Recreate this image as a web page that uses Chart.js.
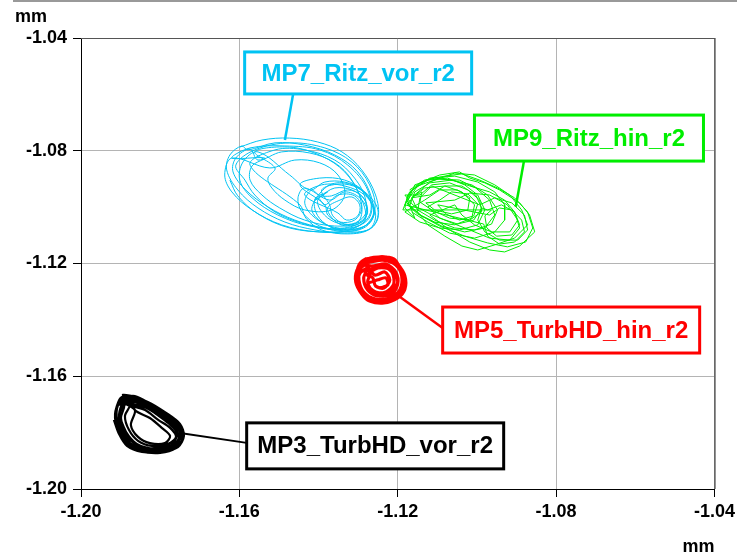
<!DOCTYPE html>
<html>
<head>
<meta charset="utf-8">
<script src="https://cdn.jsdelivr.net/npm/chart.js@4/dist/chart.umd.min.js"></script>
<style>
  html, body { margin: 0; padding: 0; background: #fff; }
  canvas { display: block; }
</style>
</head>
<body>
<canvas id="orbit" width="739" height="558"></canvas>
<script>
// Axis ticks (mm)
const xTicks = [-1.20, -1.16, -1.12, -1.08, -1.04];
const yTicks = [-1.20, -1.16, -1.12, -1.08, -1.04];

// Measuring points
const seriesNames = ['MP7_Ritz_vor_r2', 'MP9_Ritz_hin_r2', 'MP5_TurbHD_hin_r2', 'MP3_TurbHD_vor_r2'];

// Shaft orbit traces, [x, y] in mm
const mp7Orbit = [
  [-1.1599,-1.0787],[-1.1543,-1.0762],[-1.1473,-1.0755],[-1.1402,-1.0769],[-1.1341,-1.0804],[-1.1291,-1.0868],[-1.1256,-1.0957],[-1.1250,-1.1039],[-1.1276,-1.1081],[-1.1334,-1.1092],[-1.1409,-1.1081],[-1.1485,-1.1053],[-1.1553,-1.1003],[-1.1604,-1.0939],[-1.1632,-1.0868],[-1.1624,-1.0815],[-1.1594,-1.0783],
  [-1.1579,-1.0797],[-1.1510,-1.0772],[-1.1435,-1.0780],[-1.1359,-1.0815],[-1.1301,-1.0875],[-1.1266,-1.0967],[-1.1266,-1.1046],[-1.1309,-1.1078],[-1.1384,-1.1074],[-1.1460,-1.1046],[-1.1528,-1.0999],[-1.1584,-1.0939],[-1.1616,-1.0875],[-1.1609,-1.0826],[-1.1573,-1.0794],
  [-1.1553,-1.0833],[-1.1493,-1.0804],[-1.1422,-1.0808],[-1.1359,-1.0843],[-1.1316,-1.0904],[-1.1291,-1.0992],[-1.1301,-1.1053],[-1.1359,-1.1067],[-1.1435,-1.1046],[-1.1498,-1.1003],[-1.1543,-1.0957],[-1.1573,-1.0904],[-1.1568,-1.0854],[-1.1536,-1.0826],
  [-1.1619,-1.0826],[-1.1573,-1.0790],[-1.1485,-1.0783],[-1.1397,-1.0797],[-1.1326,-1.0851],[-1.1276,-1.0939],[-1.1271,-1.1028],[-1.1321,-1.1081],[-1.1402,-1.1088],[-1.1493,-1.1063],[-1.1568,-1.1010],[-1.1619,-1.0946],[-1.1637,-1.0886],[-1.1619,-1.0826],
  [-1.1523,-1.0861],[-1.1460,-1.0833],[-1.1397,-1.0843],[-1.1351,-1.0886],[-1.1334,-1.0957],[-1.1367,-1.1010],[-1.1435,-1.1010],[-1.1485,-1.0975],[-1.1518,-1.0932],[-1.1528,-1.0897],[-1.1510,-1.0861],
  [-1.1561,-1.0804],[-1.1473,-1.0787],[-1.1392,-1.0819],[-1.1334,-1.0875],[-1.1296,-1.0957],[-1.1283,-1.1039],[-1.1334,-1.1074],[-1.1422,-1.1067],[-1.1503,-1.1028],[-1.1568,-1.0967],[-1.1599,-1.0904],[-1.1591,-1.0840],[-1.1553,-1.0804],
  [-1.1473,-1.0886],
  [-1.1422,-1.0939],[-1.1384,-1.0911],[-1.1334,-1.0911],[-1.1291,-1.0939],[-1.1266,-1.0992],[-1.1276,-1.1046],[-1.1321,-1.1074],[-1.1372,-1.1067],[-1.1417,-1.1028],[-1.1435,-1.0982],[-1.1417,-1.0939],
  [-1.1397,-1.0957],[-1.1359,-1.0932],[-1.1316,-1.0939],[-1.1283,-1.0975],[-1.1283,-1.1028],[-1.1316,-1.1060],[-1.1359,-1.1053],[-1.1392,-1.1017],[-1.1402,-1.0975],[-1.1377,-1.0946],
  [-1.1409,-1.0975],[-1.1372,-1.0921],[-1.1321,-1.0918],[-1.1276,-1.0960],[-1.1258,-1.1017],[-1.1283,-1.1067],[-1.1341,-1.1081],[-1.1392,-1.1053],[-1.1417,-1.1010],[-1.1402,-1.0967],
  [-1.1384,-1.0992],[-1.1351,-1.0957],[-1.1309,-1.0960],[-1.1291,-1.1003],[-1.1309,-1.1046],[-1.1346,-1.1053],[-1.1377,-1.1028],[-1.1384,-1.0992],
  [-1.1447,-1.0921],[-1.1397,-1.0897],[-1.1334,-1.0904],[-1.1283,-1.0946],[-1.1250,-1.1010],[-1.1266,-1.1074],[-1.1326,-1.1088],[-1.1397,-1.1067],[-1.1442,-1.1017],[-1.1452,-1.0967],[-1.1435,-1.0932],
  [-1.1372,-1.0975],[-1.1334,-1.0946],[-1.1296,-1.0967],[-1.1276,-1.1017],[-1.1296,-1.1053],[-1.1334,-1.1060],[-1.1364,-1.1031],[-1.1372,-1.0992],
  [-1.1392,-1.0939],[-1.1346,-1.0918],[-1.1301,-1.0932],[-1.1271,-1.0975],[-1.1261,-1.1031],[-1.1286,-1.1074],[-1.1336,-1.1085],[-1.1382,-1.1060],[-1.1407,-1.1017],[-1.1407,-1.0967],
  [-1.1367,-1.0960],[-1.1326,-1.0939],[-1.1291,-1.0960],[-1.1276,-1.1010],[-1.1291,-1.1053],[-1.1331,-1.1067],[-1.1361,-1.1046],[-1.1377,-1.1003],
  [-1.1346,-1.0975],[-1.1316,-1.0964],[-1.1296,-1.0992],[-1.1301,-1.1031],[-1.1329,-1.1046],[-1.1351,-1.1021],
  [-1.1435,-1.0957],[-1.1392,-1.0921],[-1.1334,-1.0925],[-1.1281,-1.0960],[-1.1256,-1.1024],[-1.1271,-1.1078],[-1.1326,-1.1095],[-1.1392,-1.1081],[-1.1432,-1.1039],[-1.1447,-1.0992],
  [-1.1573,-1.0851],[-1.1510,-1.0797],[-1.1435,-1.0797],[-1.1359,-1.0833],[-1.1309,-1.0897],[-1.1281,-1.0975],[-1.1286,-1.1053],[-1.1346,-1.1081],[-1.1435,-1.1060],[-1.1510,-1.1017],[-1.1561,-1.0957],[-1.1586,-1.0904],
  [-1.1609,-1.0851],[-1.1561,-1.0797],[-1.1473,-1.0772],[-1.1384,-1.0790],[-1.1316,-1.0840],[-1.1271,-1.0921],[-1.1258,-1.1010],[-1.1291,-1.1074],[-1.1372,-1.1088],[-1.1473,-1.1074],[-1.1553,-1.1024],[-1.1604,-1.0960],[-1.1624,-1.0904]
];

const mp9Orbit = [
  [-1.1170,-1.0939],[-1.1132,-1.0904],[-1.1081,-1.0890],[-1.1038,-1.0882],[-1.0993,-1.0904],[-1.0948,-1.0932],[-1.0905,-1.0967],[-1.0872,-1.1017],[-1.0859,-1.1074],[-1.0877,-1.1124],[-1.0923,-1.1141],[-1.0973,-1.1127],[-1.1031,-1.1103],[-1.1094,-1.1067],[-1.1144,-1.1028],[-1.1177,-1.0985],
  [-1.1157,-1.0921],[-1.1107,-1.0897],[-1.1056,-1.0907],[-1.1018,-1.0925],[-1.0968,-1.0946],[-1.0930,-1.0975],[-1.0905,-1.1017],[-1.0892,-1.1074],[-1.0917,-1.1117],[-1.0968,-1.1110],[-1.1018,-1.1081],[-1.1069,-1.1053],[-1.1119,-1.1024],[-1.1162,-1.0992],[-1.1182,-1.0957],
  [-1.1144,-1.0957],[-1.1114,-1.0921],[-1.1069,-1.0914],[-1.1023,-1.0939],[-1.0993,-1.0975],[-1.0988,-1.1017],[-1.1018,-1.1046],[-1.1069,-1.1039],[-1.1114,-1.1010],[-1.1144,-1.0982],[-1.1139,-1.0946],
  [-1.1165,-1.0967],[-1.1132,-1.0932],[-1.1081,-1.0925],[-1.1038,-1.0946],[-1.1006,-1.0992],[-1.1013,-1.1039],[-1.1056,-1.1063],[-1.1107,-1.1053],[-1.1150,-1.1024],[-1.1175,-1.0992],[-1.1160,-1.0960],
  [-1.1119,-1.0911],[-1.1056,-1.0879],[-1.1006,-1.0886],[-1.0955,-1.0921],[-1.0917,-1.0957],[-1.0887,-1.1010],[-1.0872,-1.1063],[-1.0905,-1.1110],[-1.0955,-1.1134],[-1.0998,-1.1152],[-1.1038,-1.1138],[-1.1081,-1.1103],[-1.1124,-1.1063],[-1.1150,-1.1017],[-1.1144,-1.0967],[-1.1114,-1.0925],
  [-1.0993,-1.0992],[-1.0955,-1.0967],[-1.0912,-1.0985],[-1.0880,-1.1028],[-1.0872,-1.1081],[-1.0897,-1.1117],[-1.0943,-1.1117],[-1.0980,-1.1088],[-1.0998,-1.1046],[-1.0988,-1.1003],
  [-1.0973,-1.1010],[-1.0938,-1.0992],[-1.0905,-1.1017],[-1.0892,-1.1063],[-1.0912,-1.1099],[-1.0950,-1.1103],[-1.0975,-1.1074],[-1.0980,-1.1031],[-1.0963,-1.1010],
  [-1.1187,-1.1010],[-1.1170,-1.0946],[-1.1124,-1.0904],[-1.1074,-1.0897],[-1.1031,-1.0921],[-1.0998,-1.0957],[-1.0980,-1.1010],[-1.0998,-1.1063],[-1.1044,-1.1081],[-1.1094,-1.1074],[-1.1144,-1.1053],[-1.1182,-1.1017],
  [-1.1132,-1.0975],[-1.1094,-1.0939],[-1.1049,-1.0939],[-1.1018,-1.0967],[-1.1023,-1.1010],[-1.1064,-1.1024],[-1.1107,-1.1010],[-1.1129,-1.0985],
  [-1.1056,-1.0975],[-1.1018,-1.0950],[-1.0968,-1.0957],[-1.0923,-1.0992],[-1.0897,-1.1046],[-1.0917,-1.1088],[-1.0963,-1.1088],[-1.1006,-1.1063],[-1.1038,-1.1028],[-1.1056,-1.0992],
  [-1.1119,-1.1028],[-1.1069,-1.1081],[-1.1018,-1.1124],[-1.0968,-1.1152],[-1.0930,-1.1159],[-1.0892,-1.1138],[-1.0854,-1.1088],[-1.0867,-1.1028],[-1.0892,-1.0985],
  [-1.0943,-1.0939],[-1.0980,-1.0914],[-1.1018,-1.0897],[-1.1044,-1.0875],[-1.1094,-1.0886],[-1.1144,-1.0914],[-1.1175,-1.0957],[-1.1182,-1.1003],[-1.1157,-1.1039],
  [-1.1175,-1.0975],[-1.1150,-1.0925],[-1.1099,-1.0900],[-1.1044,-1.0904],[-1.1003,-1.0932],[-1.0968,-1.0975],[-1.0955,-1.1028],[-1.0980,-1.1074],[-1.1031,-1.1088],[-1.1089,-1.1067],[-1.1139,-1.1031],[-1.1170,-1.0996],
  [-1.1157,-1.0946],[-1.1119,-1.0914],[-1.1064,-1.0904],[-1.1013,-1.0921],[-1.0973,-1.0957],[-1.0948,-1.1010],[-1.0963,-1.1060],[-1.1006,-1.1081],[-1.1056,-1.1074],[-1.1107,-1.1046],[-1.1150,-1.1010],[-1.1165,-1.0967],
  [-1.1119,-1.0957],[-1.1081,-1.0925],[-1.1038,-1.0925],[-1.1003,-1.0957],[-1.0988,-1.1003],[-1.1008,-1.1046],[-1.1049,-1.1060],[-1.1094,-1.1039],[-1.1124,-1.0999],
  [-1.1094,-1.0975],[-1.1064,-1.0946],[-1.1023,-1.0953],[-1.0998,-1.0989],[-1.1008,-1.1031],[-1.1044,-1.1046],[-1.1079,-1.1024],[-1.1099,-1.0992],
  [-1.0968,-1.1028],[-1.0943,-1.1003],[-1.0912,-1.1010],[-1.0887,-1.1046],[-1.0880,-1.1088],[-1.0905,-1.1124],[-1.0943,-1.1131],[-1.0973,-1.1103],[-1.0983,-1.1060],
  [-1.1182,-1.0992],[-1.1165,-1.0939],[-1.1119,-1.0897],[-1.1056,-1.0890],[-1.0998,-1.0911],[-1.0955,-1.0946],[-1.0930,-1.0992],[-1.0930,-1.1046],[-1.0955,-1.1088],[-1.1006,-1.1110],[-1.1069,-1.1092],[-1.1124,-1.1053],[-1.1165,-1.1017]
];

const mp5Orbit = [
  [-1.1283,-1.1184],[-1.1245,-1.1177],[-1.1215,-1.1188],[-1.1195,-1.1216],[-1.1185,-1.1258],[-1.1190,-1.1301],[-1.1210,-1.1329],[-1.1245,-1.1337],[-1.1276,-1.1322],[-1.1296,-1.1291],[-1.1303,-1.1244],[-1.1298,-1.1205],[-1.1281,-1.1184],
  [-1.1276,-1.1195],[-1.1238,-1.1188],[-1.1205,-1.1205],[-1.1190,-1.1244],[-1.1195,-1.1294],[-1.1220,-1.1322],[-1.1256,-1.1326],[-1.1286,-1.1301],[-1.1298,-1.1258],[-1.1293,-1.1216],[-1.1271,-1.1195],
  [-1.1291,-1.1202],[-1.1258,-1.1180],[-1.1220,-1.1180],[-1.1200,-1.1202],[-1.1182,-1.1244],[-1.1182,-1.1291],[-1.1200,-1.1322],[-1.1235,-1.1340],[-1.1271,-1.1333],[-1.1291,-1.1308],[-1.1306,-1.1266],[-1.1303,-1.1223],[-1.1288,-1.1202],
  [-1.1266,-1.1209],[-1.1230,-1.1202],[-1.1205,-1.1230],[-1.1200,-1.1273],[-1.1215,-1.1308],[-1.1250,-1.1315],[-1.1276,-1.1294],[-1.1286,-1.1251],[-1.1276,-1.1216],
  [-1.1296,-1.1230],[-1.1281,-1.1188],[-1.1250,-1.1177],[-1.1210,-1.1184],[-1.1192,-1.1223],[-1.1180,-1.1273],[-1.1195,-1.1315],[-1.1225,-1.1333],[-1.1263,-1.1329],[-1.1288,-1.1305],[-1.1301,-1.1269],[-1.1293,-1.1230],
  [-1.1271,-1.1223],[-1.1240,-1.1209],[-1.1215,-1.1230],[-1.1210,-1.1273],[-1.1230,-1.1301],[-1.1261,-1.1301],[-1.1276,-1.1266],[-1.1268,-1.1227],
  [-1.1286,-1.1195],[-1.1250,-1.1184],[-1.1208,-1.1195],[-1.1187,-1.1237],[-1.1187,-1.1287],[-1.1208,-1.1319],[-1.1245,-1.1329],[-1.1281,-1.1315],[-1.1301,-1.1276],[-1.1301,-1.1227],[-1.1286,-1.1198],
  [-1.1258,-1.1241],[-1.1233,-1.1230],[-1.1220,-1.1258],[-1.1235,-1.1287],[-1.1256,-1.1280],[-1.1263,-1.1251],
  [-1.1276,-1.1241],[-1.1250,-1.1216],[-1.1215,-1.1223],[-1.1200,-1.1266],[-1.1220,-1.1301],[-1.1256,-1.1301],[-1.1276,-1.1273],
  [-1.1250,-1.1258],[-1.1230,-1.1251],[-1.1225,-1.1276],[-1.1245,-1.1287]
];

const mp3Orbit = [
  [-1.1889,-1.1674],[-1.1851,-1.1691],[-1.1805,-1.1727],[-1.1770,-1.1762],[-1.1750,-1.1798],[-1.1755,-1.1833],[-1.1788,-1.1858],[-1.1831,-1.1861],[-1.1869,-1.1844],[-1.1897,-1.1805],[-1.1909,-1.1755],[-1.1907,-1.1705],[-1.1886,-1.1677],
  [-1.1881,-1.1684],[-1.1838,-1.1705],[-1.1800,-1.1741],[-1.1763,-1.1776],[-1.1748,-1.1812],[-1.1765,-1.1844],[-1.1805,-1.1858],[-1.1851,-1.1847],[-1.1881,-1.1819],[-1.1899,-1.1769],[-1.1902,-1.1720],[-1.1881,-1.1688],
  [-1.1894,-1.1666],[-1.1856,-1.1677],[-1.1813,-1.1712],[-1.1775,-1.1748],[-1.1753,-1.1783],[-1.1745,-1.1826],[-1.1775,-1.1861],[-1.1821,-1.1868],[-1.1864,-1.1854],[-1.1891,-1.1819],[-1.1907,-1.1773],[-1.1912,-1.1720],[-1.1897,-1.1674],
  [-1.1876,-1.1702],[-1.1838,-1.1720],[-1.1805,-1.1755],[-1.1775,-1.1783],[-1.1760,-1.1815],[-1.1780,-1.1840],[-1.1821,-1.1847],[-1.1856,-1.1829],[-1.1879,-1.1790],[-1.1889,-1.1741],[-1.1876,-1.1702],
  [-1.1886,-1.1691],[-1.1846,-1.1698],[-1.1810,-1.1734],[-1.1780,-1.1766],[-1.1758,-1.1801],[-1.1768,-1.1840],[-1.1800,-1.1854],[-1.1844,-1.1851],[-1.1874,-1.1826],[-1.1891,-1.1783],[-1.1902,-1.1734],[-1.1886,-1.1691],
  [-1.1871,-1.1677],[-1.1826,-1.1705],[-1.1790,-1.1741],[-1.1760,-1.1773],[-1.1750,-1.1808],[-1.1760,-1.1847],[-1.1800,-1.1865],[-1.1846,-1.1861],[-1.1876,-1.1837],[-1.1897,-1.1790],[-1.1904,-1.1737],[-1.1891,-1.1688],[-1.1871,-1.1677],
  [-1.1864,-1.1720],[-1.1826,-1.1748],[-1.1796,-1.1783],[-1.1775,-1.1812],[-1.1788,-1.1837],[-1.1826,-1.1837],[-1.1856,-1.1815],[-1.1874,-1.1773],[-1.1864,-1.1720],
  [-1.1902,-1.1684],[-1.1864,-1.1670],[-1.1821,-1.1702],[-1.1780,-1.1737],[-1.1755,-1.1776],[-1.1743,-1.1815],[-1.1760,-1.1854],[-1.1800,-1.1872],[-1.1851,-1.1865],[-1.1886,-1.1837],[-1.1907,-1.1790],[-1.1914,-1.1734],[-1.1902,-1.1684],
  [-1.1891,-1.1677],[-1.1846,-1.1684],[-1.1800,-1.1720],[-1.1765,-1.1755],[-1.1745,-1.1798],[-1.1750,-1.1840],[-1.1785,-1.1865],[-1.1836,-1.1865],[-1.1876,-1.1840],[-1.1902,-1.1790],[-1.1912,-1.1741],[-1.1904,-1.1695],
  [-1.1881,-1.1698],[-1.1836,-1.1712],[-1.1796,-1.1748],[-1.1765,-1.1783],[-1.1753,-1.1819],[-1.1773,-1.1851],[-1.1816,-1.1858],[-1.1859,-1.1840],[-1.1886,-1.1798],[-1.1899,-1.1748],[-1.1891,-1.1705],
  [-1.1907,-1.1698],[-1.1881,-1.1670],[-1.1831,-1.1691],[-1.1785,-1.1730],[-1.1750,-1.1769],[-1.1740,-1.1812],[-1.1755,-1.1851],[-1.1796,-1.1868],[-1.1846,-1.1868],[-1.1884,-1.1847],[-1.1904,-1.1805],[-1.1917,-1.1755]
];

const FONT = "'Liberation Sans', Arial, Helvetica, sans-serif";
const COLORS = ['#00c3f3', '#00ee00', '#ff0000', '#000000'];
const orbits = [mp7Orbit, mp9Orbit, mp5Orbit, mp3Orbit];
const lineWidths = [1, 1, 3.2, 2.2];
const tensions = [0.35, 0, 0.3, 0.3];

// Callout boxes: box centre and leader end in mm, sizes in px
const callouts = [
  { s: 0, box: [-1.1300, -1.0524], w: 227, h: 42, anchor: [-1.1485, -1.0762], side: 'bottom', off: -65, lead: 2.5 },
  { s: 1, box: [-1.0717, -1.0755], w: 229, h: 46, anchor: [-1.0902, -1.0999], side: 'bottom', off: -65, lead: 2.5 },
  { s: 2, box: [-1.0762, -1.1436], w: 257, h: 46, anchor: [-1.1208, -1.1305], side: 'left', off: -2, lead: 2.5 },
  { s: 3, box: [-1.1257, -1.1847], w: 257, h: 46, anchor: [-1.1750, -1.1801], side: 'left', off: -3, lead: 2 }
];

const decorPlugin = {
  id: 'decor',
  afterDatasetsDraw(chart) {
    const { ctx, scales: { x, y } } = chart;
    ctx.save();
    callouts.forEach(c => {
      const color = COLORS[c.s];
      const cx = x.getPixelForValue(c.box[0]);
      const cy = y.getPixelForValue(c.box[1]);
      const ax = x.getPixelForValue(c.anchor[0]);
      const ay = y.getPixelForValue(c.anchor[1]);
      let sx, sy;
      if (c.side === 'bottom') { sx = cx + c.off; sy = cy + c.h / 2; }
      else { sx = cx - c.w / 2; sy = cy + c.off; }
      ctx.strokeStyle = color;
      ctx.lineWidth = c.lead;
      ctx.beginPath();
      ctx.moveTo(sx, sy);
      ctx.lineTo(ax, ay);
      ctx.stroke();
      ctx.fillStyle = '#ffffff';
      ctx.fillRect(cx - c.w / 2, cy - c.h / 2, c.w, c.h);
      ctx.lineWidth = 3;
      ctx.strokeRect(cx - c.w / 2, cy - c.h / 2, c.w, c.h);
      ctx.fillStyle = color;
      ctx.font = 'bold 24px ' + FONT;
      ctx.textAlign = 'center';
      ctx.textBaseline = 'middle';
      ctx.fillText(seriesNames[c.s], cx, cy + 1);
    });
    ctx.restore();
  },
  afterDraw(chart) {
    const { ctx, chartArea: a } = chart;
    ctx.save();
    // plot frame, top and right
    ctx.lineWidth = 1;
    ctx.strokeStyle = '#555';
    ctx.beginPath();
    ctx.moveTo(a.left, a.top + 0.5);
    ctx.lineTo(a.right, a.top + 0.5);
    ctx.stroke();
    ctx.strokeStyle = '#222';
    ctx.beginPath();
    ctx.moveTo(a.right + 0.5, a.top);
    ctx.lineTo(a.right + 0.5, a.bottom);
    ctx.stroke();
    // rule across the top of the page
    ctx.strokeStyle = '#777';
    ctx.lineWidth = 1.5;
    ctx.beginPath();
    ctx.moveTo(13, 1);
    ctx.lineTo(737, 1);
    ctx.stroke();
    // unit labels
    ctx.fillStyle = '#000';
    ctx.font = 'bold 18px ' + FONT;
    ctx.textBaseline = 'alphabetic';
    ctx.textAlign = 'left';
    ctx.fillText('mm', 15, 22);
    ctx.textAlign = 'right';
    ctx.fillText('mm', a.right, 552);
    ctx.restore();
  }
};

const datasets = orbits.map((pts, i) => ({
  label: seriesNames[i],
  data: pts.map(p => ({ x: p[0], y: p[1] })),
  showLine: true,
  borderColor: COLORS[i],
  backgroundColor: COLORS[i],
  borderWidth: lineWidths[i],
  pointRadius: 0,
  tension: tensions[i],
  fill: false
}));

const axisFont = { family: FONT, size: 18, weight: 'bold' };

new Chart(document.getElementById('orbit'), {
  type: 'scatter',
  data: { datasets },
  options: {
    responsive: false,
    animation: false,
    devicePixelRatio: 1,
    layout: { padding: { top: 38, right: 24, left: 0, bottom: 0 } },
    plugins: { legend: { display: false }, tooltip: { enabled: false } },
    scales: {
      x: {
        type: 'linear',
        min: -1.20, max: -1.04,
        afterBuildTicks: s => { s.ticks = xTicks.map(v => ({ value: v })); },
        afterFit: s => { s.height = 69; },
        ticks: { color: '#000', font: axisFont, padding: 4, maxRotation: 0, autoSkip: false,
                 callback: v => Number(v).toFixed(2) },
        grid: { color: '#b4b4b4', lineWidth: 1, tickColor: '#000', tickLength: 8 },
        border: { color: '#000', width: 1 }
      },
      y: {
        type: 'linear',
        min: -1.20, max: -1.04,
        afterBuildTicks: s => { s.ticks = yTicks.map(v => ({ value: v })); },
        afterFit: s => { s.width = 81; },
        ticks: { color: '#000', font: axisFont, padding: 6, autoSkip: false,
                 callback: v => Number(v).toFixed(2) },
        grid: { color: '#b4b4b4', lineWidth: 1, tickColor: '#000', tickLength: 8 },
        border: { color: '#000', width: 1 }
      }
    }
  },
  plugins: [decorPlugin]
});
</script>
</body>
</html>
